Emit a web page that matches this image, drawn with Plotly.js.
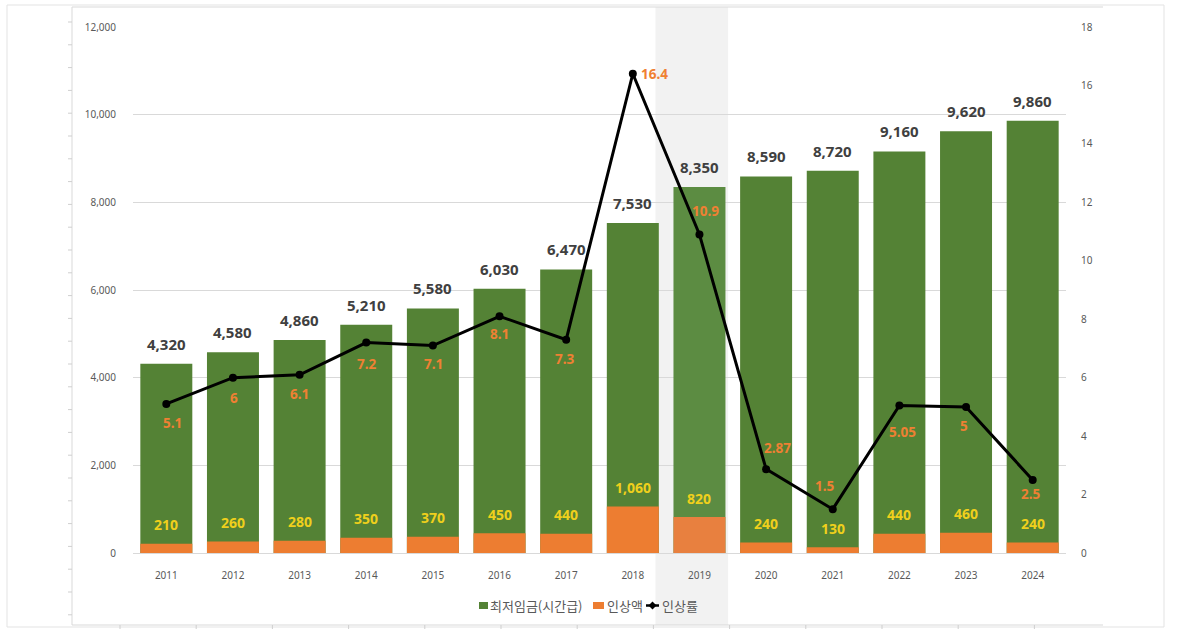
<!DOCTYPE html>
<html>
<head>
<meta charset="utf-8">
<script src="https://cdn.plot.ly/plotly-3.0.1.min.js"></script>
<style>html,body{margin:0;padding:0;background:#fff;}#chart{width:1186px;height:641px;}</style>
</head>
<body>
<div id="chart"></div>
<script>
const years = ['2011','2012','2013','2014','2015','2016','2017','2018','2019','2020','2021','2022','2023','2024'];
const minWage = [4320,4580,4860,5210,5580,6030,6470,7530,8350,8590,8720,9160,9620,9860];
const raiseAmount = [210,260,280,350,370,450,440,1060,820,240,130,440,460,240];
const raiseRate = [5.1,6,6.1,7.2,7.1,8.1,7.3,16.4,10.9,2.87,1.5,5.05,5,2.5];
const seriesNames = ['최저임금(시간급)','인상액','인상률'];

const highlightYear = '2019';
const greenColors = years.map(y => y === highlightYear ? '#5c8c42' : '#548235');
const orangeColors = years.map(y => y === highlightYear ? '#e8803f' : '#ED7D31');
// label offsets for the rate labels [dx, dy] in pixels (screen, +dy = down)
const rateLabelOffset = [[6,19],[1,20],[0,19],[1,21],[1,18],[0,18],[-1,19],[22,0],[6,-23],[11,-21],[-8,-23],[3,27],[-2,19],[-2,14]];

const W = 1186, H = 641, L = 133, R = 1066, T = 27, B = 553;
const px = x => (x - L) / (R - L);
const py = y => (B - y) / (B - T);
const fmt = v => v.toLocaleString('en-US');

const traces = [
  {type:'bar', name:seriesNames[0], x:years, y:minWage, marker:{color:greenColors}, showlegend:false},
  {type:'bar', name:seriesNames[1], x:years, y:raiseAmount, marker:{color:orangeColors}, showlegend:false},
  {type:'scatter', mode:'lines+markers', name:seriesNames[2], x:years, y:raiseRate, yaxis:'y2',
   line:{color:'#000000', width:3}, marker:{color:'#000000', size:8, symbol:'circle'}, showlegend:false, cliponaxis:false}
];

const annotations = [];
years.forEach((yr, i) => {
  annotations.push({xref:'x', yref:'y', x:i, y:minWage[i], text:'<b>' + fmt(minWage[i]) + '</b>', showarrow:false,
    yshift:20, xanchor:'center', yanchor:'middle',
    font:{family:'Noto Sans', size:15, color:'#404040'}});
  annotations.push({xref:'x', yref:'y', x:i, y:raiseAmount[i], text:'<b>' + fmt(raiseAmount[i]) + '</b>', showarrow:false,
    yshift:19, xanchor:'center', yanchor:'middle',
    font:{family:'Noto Sans', size:14, color:'#EFD01C'}});
  annotations.push({xref:'x', yref:'y2', x:i, y:raiseRate[i], text:'<b>' + String(raiseRate[i]) + '</b>', showarrow:false,
    xshift:rateLabelOffset[i][0], yshift:-rateLabelOffset[i][1], xanchor:'center', yanchor:'middle',
    font:{family:'Noto Sans', size:13.5, color:'#EF8033'}});
});
// custom legend text
const legendText = [[488, seriesNames[0]], [605, seriesNames[1]], [660, seriesNames[2]]];
legendText.forEach(([x, t]) => annotations.push({xref:'paper', yref:'paper', x:px(x), y:py(605), text:t, showarrow:false,
  xanchor:'left', yanchor:'middle', font:{family:'Noto Sans CJK KR', size:13, color:'#595959'}}));

const shapes = [
  {type:'rect', xref:'x', yref:'paper', x0:7.34, x1:8.43, y0:py(625), y1:py(7), fillcolor:'#f2f2f2', line:{width:0}, layer:'below'},
  {type:'rect', xref:'paper', yref:'paper', x0:px(7), x1:px(1164), y0:py(627), y1:py(5), line:{color:'#e3e3e3', width:1}, fillcolor:'rgba(0,0,0,0)', layer:'below'},
  {type:'line', xref:'paper', yref:'paper', x0:px(72), x1:px(72), y0:py(7), y1:py(625), line:{color:'#d9d9d9', width:1}},
  {type:'line', xref:'paper', yref:'paper', x0:px(72), x1:px(1103), y0:py(7), y1:py(7), line:{color:'#d9d9d9', width:1}},
  {type:'line', xref:'paper', yref:'paper', x0:px(72), x1:px(1103), y0:py(625), y1:py(625), line:{color:'#d9d9d9', width:1}},
  // legend symbols
  {type:'rect', xref:'paper', yref:'paper', x0:px(479), x1:px(488), y0:py(609), y1:py(602), fillcolor:'#548235', line:{width:0}},
  {type:'rect', xref:'paper', yref:'paper', x0:px(593), x1:px(604), y0:py(609), y1:py(602), fillcolor:'#ED7D31', line:{width:0}},
  {type:'line', xref:'paper', yref:'paper', x0:px(646), x1:px(659), y0:py(605.5), y1:py(605.5), line:{color:'#000', width:2.5}},
  {type:'path', xref:'paper', yref:'paper', path:`M ${px(652.5)} ${py(601.5)} L ${px(656.5)} ${py(605.5)} L ${px(652.5)} ${py(609.5)} L ${px(648.5)} ${py(605.5)} Z`, fillcolor:'#000', line:{width:0}}
];
for (let y = 22; y < 625; y += 22.8) {
  shapes.push({type:'line', xref:'paper', yref:'paper', x0:px(68), x1:px(72), y0:py(y), y1:py(y), line:{color:'#cfcfcf', width:1}});
}
for (let x = 120; x < 1100; x += 76.2) {
  shapes.push({type:'line', xref:'paper', yref:'paper', x0:px(x), x1:px(x), y0:py(625), y1:py(629), line:{color:'#cfcfcf', width:1}});
}

const layout = {
  width:W, height:H,
  margin:{l:L, r:W-R, t:T, b:H-B, pad:0},
  paper_bgcolor:'#ffffff', plot_bgcolor:'rgba(0,0,0,0)',
  barmode:'overlay', bargap:0.22,
  font:{family:'Noto Sans, Noto Sans CJK KR', color:'#595959'},
  showlegend:false,
  xaxis:{type:'category', range:[-0.5,13.5], autorange:false, showline:true, linecolor:'#d9d9d9', linewidth:1, showgrid:false,
         ticks:'outside', ticklen:13, tickcolor:'rgba(0,0,0,0)',
         tickfont:{family:'Noto Sans', size:10, color:'#595959'}},
  yaxis:{range:[0,12000], dtick:2000, tickformat:',', showgrid:true, gridcolor:'#d9d9d9', gridwidth:1,
         zeroline:false, showline:false, ticks:'outside', ticklen:14, tickcolor:'rgba(0,0,0,0)',
         tickfont:{family:'Noto Sans', size:10, color:'#595959'}},
  yaxis2:{overlaying:'y', side:'right', range:[0,18], dtick:2, showgrid:false, zeroline:false, showline:false,
          ticks:'outside', ticklen:12, tickcolor:'rgba(0,0,0,0)',
          tickfont:{family:'Noto Sans', size:10, color:'#595959'}},
  shapes:shapes,
  annotations:annotations
};

Plotly.newPlot('chart', traces, layout, {displayModeBar:false, staticPlot:true});
</script>
</body>
</html>
